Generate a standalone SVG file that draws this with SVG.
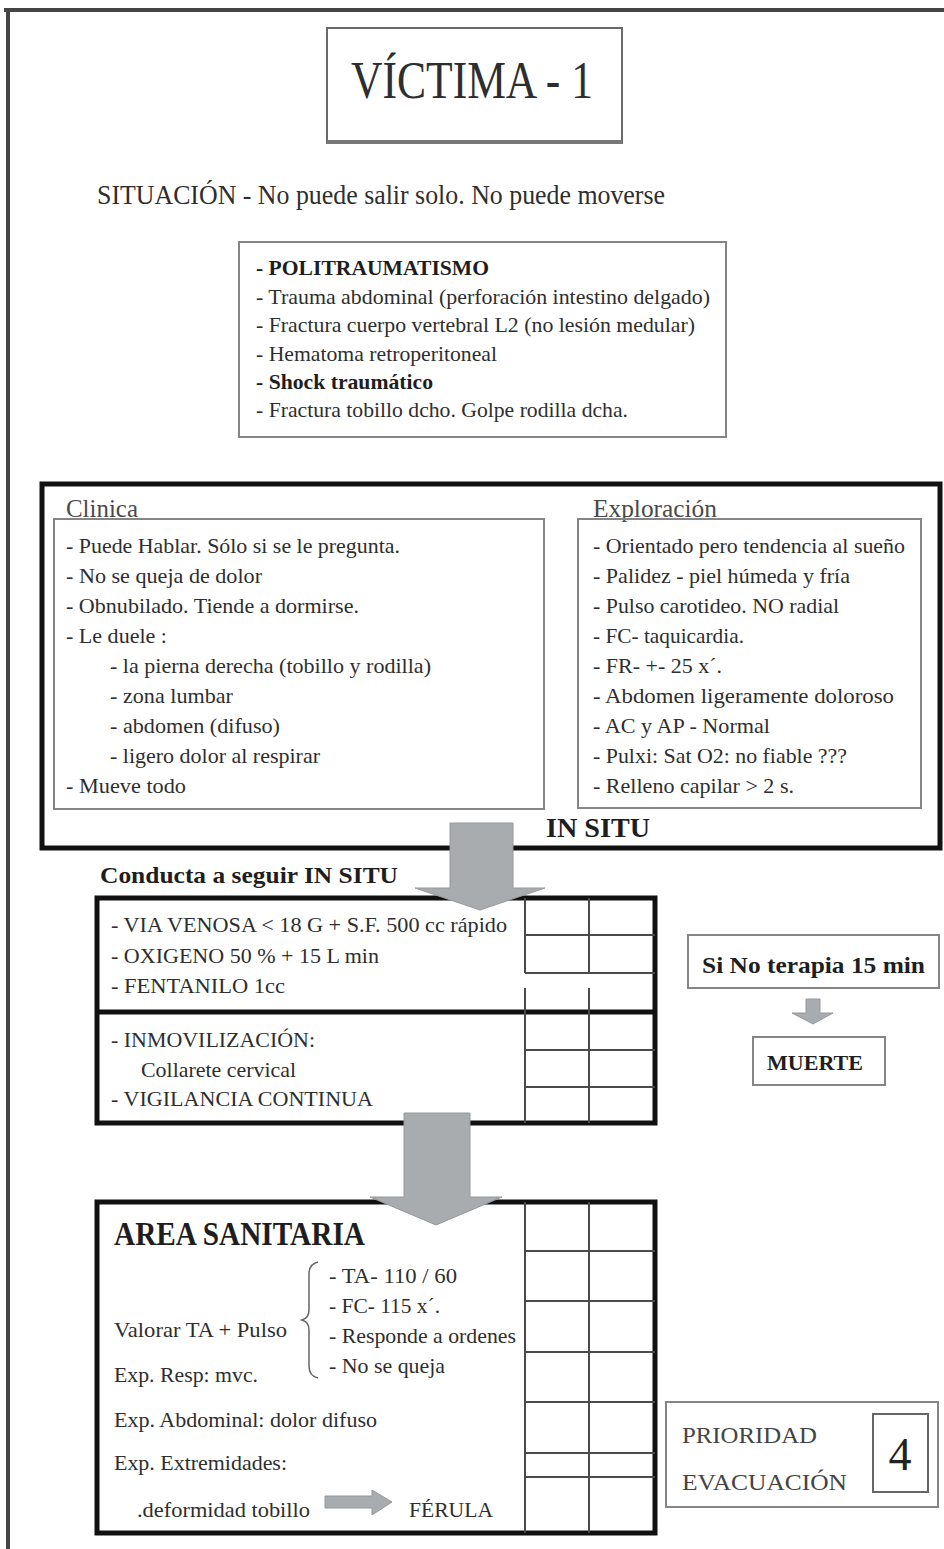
<svg xmlns="http://www.w3.org/2000/svg" width="944" height="1549" viewBox="0 0 944 1549">
<style>
.t{font-family:"Liberation Serif","Times New Roman",serif;font-size:22px;fill:#2e2e2e}
.b{font-weight:bold;fill:#1e1e1e}
.lbl{font-size:25px;fill:#4a4a4a}
.s21{font-size:21px}
.s24{font-size:24px}
.heavy{fill:none;stroke:#111;stroke-width:5}
.thin{fill:none;stroke:#858585;stroke-width:2}
.grid{stroke:#4a4a4a;stroke-width:2;fill:none}
.arrow{fill:#a9acaf;stroke:#96989b;stroke-width:1}
</style>
<rect x="0" y="0" width="944" height="1549" fill="#ffffff"/>
<g id="page-frame">
<path d="M4 10 H944 M8 10 V1549" stroke="#444" stroke-width="4" fill="none"/>
</g>
<g id="title">
<rect x="327" y="28" width="295" height="115" fill="none" stroke="#6a6a6a" stroke-width="2"/>
<line x1="327" y1="142" x2="622" y2="142" stroke="#777" stroke-width="4"/>
<text class="t" x="351" y="98" style="font-size:52px" textLength="242" lengthAdjust="spacingAndGlyphs">VÍCTIMA - 1</text>
</g>
<g id="situacion">
<text class="t" x="97" y="204" style="font-size:27px" textLength="568" lengthAdjust="spacingAndGlyphs">SITUACIÓN -  No puede salir solo. No puede moverse</text>
</g>
<g id="diagnostico">
<rect class="thin" x="239" y="242" width="487" height="195"/>
<text class="t b s21" x="256" y="275" textLength="233" lengthAdjust="spacingAndGlyphs">- POLITRAUMATISMO</text>
<text class="t s21" x="256" y="304" textLength="454" lengthAdjust="spacingAndGlyphs">- Trauma abdominal (perforación intestino delgado)</text>
<text class="t s21" x="256" y="332" textLength="439" lengthAdjust="spacingAndGlyphs">- Fractura cuerpo vertebral L2 (no lesión medular)</text>
<text class="t s21" x="256" y="361" textLength="241" lengthAdjust="spacingAndGlyphs">- Hematoma retroperitoneal</text>
<text class="t b s21" x="256" y="389" textLength="177" lengthAdjust="spacingAndGlyphs">- Shock traumático</text>
<text class="t s21" x="256" y="417" textLength="372" lengthAdjust="spacingAndGlyphs">- Fractura tobillo dcho. Golpe rodilla dcha.</text>
</g>
<g id="in-situ-panel">
<rect class="heavy" x="42" y="484" width="898" height="364"/>
<text class="t b" x="546" y="837" style="font-size:28px" textLength="104" lengthAdjust="spacingAndGlyphs">IN SITU</text>
</g>
<g id="clinica">
<text class="t lbl" x="66" y="517" textLength="72" lengthAdjust="spacingAndGlyphs">Clinica</text>
<rect class="thin" x="54" y="519" width="490" height="290"/>
<text class="t" x="66" y="553" textLength="334" lengthAdjust="spacingAndGlyphs">- Puede Hablar. Sólo si se le pregunta.</text>
<text class="t" x="66" y="583" textLength="196" lengthAdjust="spacingAndGlyphs">- No se queja de dolor</text>
<text class="t" x="66" y="613" textLength="293" lengthAdjust="spacingAndGlyphs">- Obnubilado. Tiende a dormirse.</text>
<text class="t" x="66" y="643" textLength="101" lengthAdjust="spacingAndGlyphs">- Le duele :</text>
<text class="t" x="110" y="673" textLength="321" lengthAdjust="spacingAndGlyphs">- la pierna derecha (tobillo y rodilla)</text>
<text class="t" x="110" y="703" textLength="123" lengthAdjust="spacingAndGlyphs">- zona lumbar</text>
<text class="t" x="110" y="733" textLength="170" lengthAdjust="spacingAndGlyphs">- abdomen (difuso)</text>
<text class="t" x="110" y="763" textLength="210" lengthAdjust="spacingAndGlyphs">- ligero dolor al respirar</text>
<text class="t" x="66" y="793" textLength="120" lengthAdjust="spacingAndGlyphs">- Mueve todo</text>
</g>
<g id="exploracion">
<text class="t lbl" x="593" y="517" textLength="124" lengthAdjust="spacingAndGlyphs">Exploración</text>
<rect class="thin" x="578" y="519" width="343" height="289"/>
<text class="t" x="593" y="553" textLength="312" lengthAdjust="spacingAndGlyphs">- Orientado pero tendencia al sueño</text>
<text class="t" x="593" y="583" textLength="257" lengthAdjust="spacingAndGlyphs">- Palidez - piel húmeda y fría</text>
<text class="t" x="593" y="613" textLength="246" lengthAdjust="spacingAndGlyphs">- Pulso carotideo. NO radial</text>
<text class="t" x="593" y="643" textLength="151" lengthAdjust="spacingAndGlyphs">- FC- taquicardia.</text>
<text class="t" x="593" y="673" textLength="129" lengthAdjust="spacingAndGlyphs">- FR-  +- 25 x´.</text>
<text class="t" x="593" y="703" textLength="301" lengthAdjust="spacingAndGlyphs">- Abdomen  ligeramente  doloroso</text>
<text class="t" x="593" y="733" textLength="177" lengthAdjust="spacingAndGlyphs">- AC y AP - Normal</text>
<text class="t" x="593" y="763" textLength="254" lengthAdjust="spacingAndGlyphs">- Pulxi: Sat O2: no fiable ???</text>
<text class="t" x="593" y="793" textLength="201" lengthAdjust="spacingAndGlyphs">- Relleno capilar &gt; 2 s.</text>
</g>
<g id="conducta">
<text class="t b s24" x="100" y="883" textLength="298" lengthAdjust="spacingAndGlyphs">Conducta a seguir IN SITU</text>
<rect class="heavy" x="97" y="898" width="558" height="225"/>
<line x1="97" y1="1012" x2="655" y2="1012" stroke="#111" stroke-width="5"/>
<path class="grid" d="M525 898 V973 M589 898 V973 M525 988 V1123 M589 988 V1123 M525 935 H655 M525 973 H655 M525 1050 H655 M525 1087 H655"/>
<text class="t s21" x="111" y="932" textLength="396" lengthAdjust="spacingAndGlyphs">- VIA VENOSA &lt; 18 G + S.F. 500 cc rápido</text>
<text class="t s21" x="111" y="963" textLength="268" lengthAdjust="spacingAndGlyphs">- OXIGENO 50 % + 15 L min</text>
<text class="t s21" x="111" y="993" textLength="174" lengthAdjust="spacingAndGlyphs">- FENTANILO 1cc</text>
<text class="t s21" x="111" y="1047" textLength="204" lengthAdjust="spacingAndGlyphs">- INMOVILIZACIÓN:</text>
<text class="t s21" x="141" y="1077" textLength="155" lengthAdjust="spacingAndGlyphs">Collarete cervical</text>
<text class="t s21" x="111" y="1106" textLength="262" lengthAdjust="spacingAndGlyphs">- VIGILANCIA CONTINUA</text>
</g>
<g id="area-sanitaria">
<rect class="heavy" x="97" y="1202" width="558" height="331"/>
<path class="grid" d="M525 1202 V1533 M589 1202 V1533 M525 1251 H655 M525 1301 H655 M525 1352 H655 M525 1402 H655 M525 1453 H655 M525 1477 H655"/>
<text class="t b" x="114" y="1245" style="font-size:34px" textLength="251" lengthAdjust="spacingAndGlyphs">AREA SANITARIA</text>
<text class="t s21" x="114" y="1337" textLength="173" lengthAdjust="spacingAndGlyphs">Valorar TA + Pulso</text>
<text class="t s21" x="114" y="1382" textLength="144" lengthAdjust="spacingAndGlyphs">Exp. Resp: mvc.</text>
<text class="t s21" x="114" y="1427" textLength="263" lengthAdjust="spacingAndGlyphs">Exp. Abdominal: dolor difuso</text>
<text class="t s21" x="114" y="1470" textLength="173" lengthAdjust="spacingAndGlyphs">Exp. Extremidades:</text>
<text class="t s21" x="137" y="1517" textLength="173" lengthAdjust="spacingAndGlyphs">.deformidad tobillo</text>
<text class="t s21" x="409" y="1517" textLength="84" lengthAdjust="spacingAndGlyphs">FÉRULA</text>
<path d="M318 1262 Q309 1264 309 1274 V1310 Q309 1318 302 1320 Q309 1322 309 1330 V1366 Q309 1376 318 1378" fill="none" stroke="#666" stroke-width="1.5"/>
<text class="t s21" x="329" y="1283" textLength="128" lengthAdjust="spacingAndGlyphs">- TA- 110 / 60</text>
<text class="t s21" x="329" y="1313" textLength="111" lengthAdjust="spacingAndGlyphs">- FC- 115 x´.</text>
<text class="t s21" x="329" y="1343" textLength="187" lengthAdjust="spacingAndGlyphs">- Responde a ordenes</text>
<text class="t s21" x="329" y="1373" textLength="116" lengthAdjust="spacingAndGlyphs">- No se queja</text>
</g>
<g id="terapia">
<rect class="thin" x="688" y="935" width="251" height="53"/>
<text class="t b s24" x="702" y="973" textLength="223" lengthAdjust="spacingAndGlyphs">Si No terapia 15 min</text>
</g>
<g id="muerte">
<rect class="thin" x="753" y="1037" width="132" height="48"/>
<text class="t b s21" x="767" y="1070" textLength="96" lengthAdjust="spacingAndGlyphs">MUERTE</text>
</g>
<g id="prioridad">
<rect class="thin" x="666" y="1402" width="272" height="105"/>
<text class="t s24" x="682" y="1443" style="fill:#444" textLength="135" lengthAdjust="spacingAndGlyphs">PRIORIDAD</text>
<text class="t s24" x="682" y="1490" style="fill:#444" textLength="165" lengthAdjust="spacingAndGlyphs">EVACUACIÓN</text>
<rect x="873" y="1414" width="55" height="78" fill="none" stroke="#666" stroke-width="2"/>
<text class="t" x="900" y="1470" style="font-size:46px;fill:#222" text-anchor="middle">4</text>
</g>
<g id="connectors">
<polygon class="arrow" points="450,823 513,823 513,888 545,888 480,910 415,888 450,888"/>
<polygon class="arrow" points="404,1113 470,1113 470,1197 502,1197 436,1225 370,1197 404,1197"/>
<polygon class="arrow" points="806,999 820,999 820,1013 833,1013 813,1024 792,1013 806,1013"/>
<polygon class="arrow" points="325,1496 372,1496 372,1490 392,1502 372,1515 372,1508 325,1508"/>
</g>
</svg>
